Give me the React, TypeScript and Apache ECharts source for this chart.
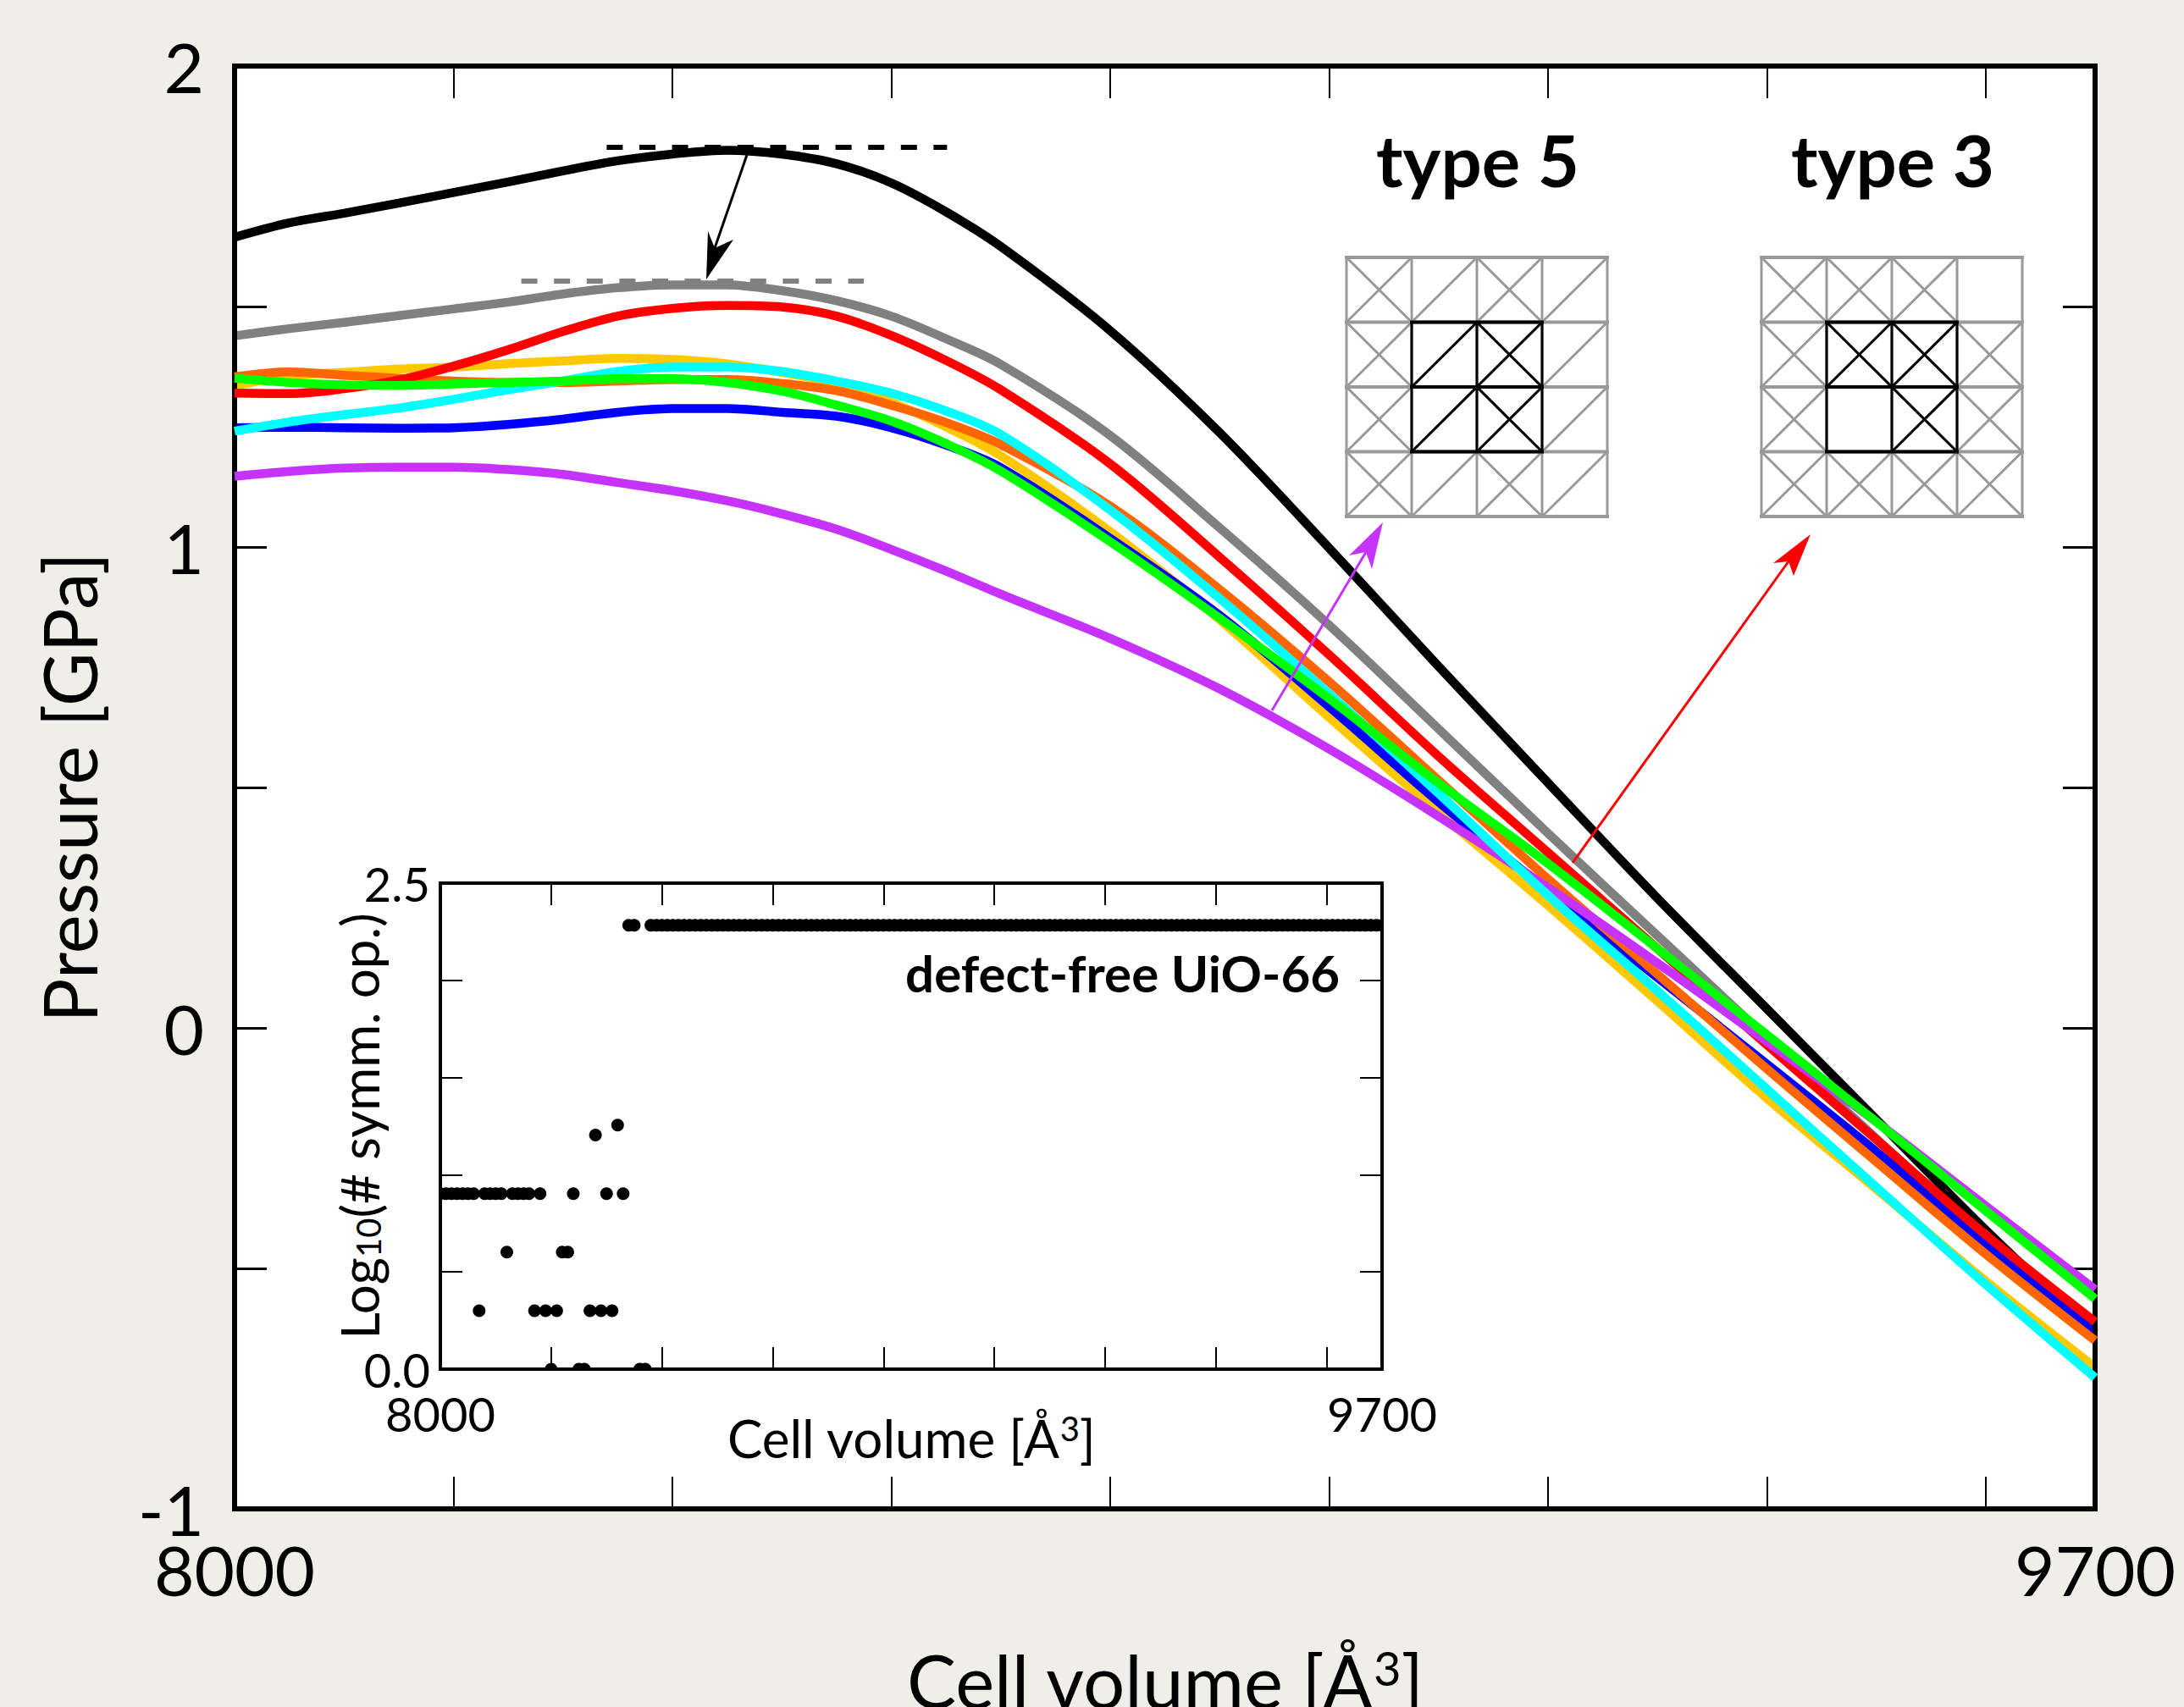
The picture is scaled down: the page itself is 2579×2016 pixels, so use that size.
import React, { useEffect, useRef } from "react";
import * as echarts from "echarts";

const volumes = [8000, 8050, 8100, 8150, 8200, 8250, 8300, 8350, 8400, 8450, 8500, 8550, 8600, 8650, 8700, 8800, 8900, 9000, 9100, 9200, 9300, 9400, 9500, 9600, 9700];

const black = [1.644, 1.674, 1.694, 1.715, 1.737, 1.759, 1.782, 1.803, 1.817, 1.825, 1.817, 1.797, 1.757, 1.697, 1.625, 1.45, 1.238, 0.998, 0.752, 0.51, 0.27, 0.04, -0.19, -0.42, -0.635];
const gray = [1.439, 1.454, 1.467, 1.481, 1.495, 1.509, 1.526, 1.539, 1.545, 1.545, 1.533, 1.512, 1.48, 1.433, 1.38, 1.232, 1.04, 0.838, 0.622, 0.405, 0.192, -0.02, -0.23, -0.44, -0.637];
const red = [1.32, 1.319, 1.329, 1.347, 1.376, 1.41, 1.448, 1.48, 1.496, 1.502, 1.499, 1.48, 1.44, 1.388, 1.327, 1.173, 0.979, 0.776, 0.565, 0.365, 0.165, -0.035, -0.232, -0.43, -0.611];
const yellow = [1.335, 1.356, 1.363, 1.37, 1.374, 1.381, 1.387, 1.392, 1.39, 1.381, 1.363, 1.34, 1.301, 1.25, 1.19, 1.032, 0.849, 0.646, 0.448, 0.255, 0.056, -0.146, -0.335, -0.526, -0.706];
const orange = [1.354, 1.364, 1.357, 1.351, 1.345, 1.342, 1.342, 1.345, 1.348, 1.348, 1.34, 1.325, 1.295, 1.259, 1.213, 1.085, 0.912, 0.72, 0.515, 0.31, 0.112, -0.085, -0.278, -0.47, -0.65];
const green = [1.351, 1.342, 1.337, 1.336, 1.339, 1.342, 1.345, 1.35, 1.35, 1.342, 1.324, 1.295, 1.262, 1.215, 1.158, 1.011, 0.852, 0.685, 0.509, 0.342, 0.165, -0.014, -0.195, -0.38, -0.563];
const cyan = [1.241, 1.26, 1.275, 1.289, 1.307, 1.327, 1.345, 1.365, 1.374, 1.374, 1.365, 1.345, 1.32, 1.283, 1.234, 1.077, 0.893, 0.695, 0.488, 0.276, 0.077, -0.127, -0.331, -0.533, -0.727];
const blue = [1.248, 1.249, 1.248, 1.247, 1.248, 1.255, 1.266, 1.28, 1.288, 1.288, 1.28, 1.272, 1.248, 1.212, 1.165, 1.018, 0.858, 0.668, 0.47, 0.285, 0.105, -0.075, -0.257, -0.448, -0.629];
const purple = [1.147, 1.157, 1.164, 1.166, 1.166, 1.161, 1.151, 1.134, 1.117, 1.096, 1.069, 1.037, 0.995, 0.95, 0.902, 0.81, 0.705, 0.58, 0.44, 0.292, 0.135, -0.028, -0.195, -0.37, -0.544];

const blackPlateau = [[8340, 1.831], [8651, 1.831]];
const grayPlateau = [[8262, 1.553], [8575, 1.553]];

// number of symmetry operations for every 10 A^3 step, starting at 8000
const inset_step_start = 8000;
const symmetryOps = [
  8, 8, 8, 8, 8, 8, 8, 2, 8, 8, 8, 8, 4, 8, 8, 8, 8, 2, 8, 2, 1, 2, 4, 4, 8, 1, 1, 2, 16, 2, 8, 2, 18, 8, 192, 192, 1, 1,
  192, 192, 192, 192, 192, 192, 192, 192, 192, 192, 192, 192, 192, 192, 192, 192, 192, 192, 192, 192, 192, 192, 192, 192, 192,
  192, 192, 192, 192, 192, 192, 192, 192, 192, 192, 192, 192, 192, 192, 192, 192, 192, 192, 192, 192, 192, 192, 192, 192, 192,
  192, 192, 192, 192, 192, 192, 192, 192, 192, 192, 192, 192, 192, 192, 192, 192, 192, 192, 192, 192, 192, 192, 192, 192, 192,
  192, 192, 192, 192, 192, 192, 192, 192, 192, 192, 192, 192, 192, 192, 192, 192, 192, 192, 192, 192, 192, 192, 192, 192, 192,
  192, 192, 192, 192, 192, 192, 192, 192, 192, 192, 192, 192, 192, 192, 192, 192, 192, 192, 192, 192, 192, 192, 192, 192, 192,
  192, 192, 192, 192, 192, 192, 192, 192,
];

const type5Cells = ["X/X/", "X/X/", "X/X/", "X/X/"];
const type3Cells = ["XXX.", "XXXX", "X.XX", "XXXX"];

const FONT = "Lato";
const PURPLE = "#C633FF";

function iconLines(left: number, cells: string[]) {
  const top = 304;
  const w = 77;
  const h = 76.5;
  const out: any[] = [];
  const line = (x1: number, y1: number, x2: number, y2: number, stroke: string, lw: number, z: number) =>
    out.push({ type: "line", z, shape: { x1, y1, x2, y2 }, style: { stroke, lineWidth: lw, lineCap: "square" } });
  const cell = (r: number, c: number, stroke: string, z: number) => {
    const x = left + c * w;
    const y = top + r * h;
    const k = cells[r][c];
    if (k === "X" || k === "/") line(x, y + h, x + w, y, stroke, 3, z);
    if (k === "X") line(x, y, x + w, y + h, stroke, 3, z);
  };
  for (let r = 0; r < 4; r++) for (let c = 0; c < 4; c++) cell(r, c, "#999999", 20);
  for (let i = 0; i <= 4; i++) {
    line(left, top + i * h, left + 4 * w, top + i * h, "#999999", 4, 20);
    line(left + i * w, top, left + i * w, top + 4 * h, "#999999", 3, 20);
  }
  for (let r = 1; r < 3; r++) for (let c = 1; c < 3; c++) cell(r, c, "#000000", 21);
  for (let i = 1; i <= 3; i++) {
    line(left + w, top + i * h, left + 3 * w, top + i * h, "#000000", 4, 21);
    line(left + i * w, top + h, left + i * w, top + 3 * h, "#000000", 3, 21);
  }
  return out;
}

function arrow(base: number[], tip: number[], w1: number[], w2: number[], notch: number[], color: string, lw: number) {
  return [
    { type: "line", z: 30, shape: { x1: base[0], y1: base[1], x2: notch[0], y2: notch[1] }, style: { stroke: color, lineWidth: lw } },
    { type: "polygon", z: 30, shape: { points: [tip, w1, notch, w2] }, style: { fill: color } },
  ];
}

function boxAxes(grid: number, kind: "x" | "y", min: number, max: number, interval: number, len: number, lineW: number, tickW: number, labelFmt: (v: number) => string, fontSize: number, margin: number, name: any) {
  const first = kind === "x" ? "bottom" : "left";
  const second = kind === "x" ? "top" : "right";
  const base = {
    type: "value", gridIndex: grid, min, max, interval, z: 6,
    splitLine: { show: false },
    axisLine: { show: true, onZero: false, lineStyle: { color: "#000", width: lineW, cap: "square" } },
    axisTick: { show: true, inside: true, length: len, lineStyle: { color: "#000", width: tickW } },
  };
  return [
    {
      ...base, position: first, nameMoveOverlap: false,
      axisLabel: { show: true, formatter: labelFmt, fontFamily: FONT, fontSize, color: "#000", margin, showMinLabel: true, showMaxLabel: true },
      ...name,
    },
    { ...base, position: second, axisLabel: { show: false } },
  ];
}

export default function App() {
  const ref = useRef<HTMLDivElement>(null);
  useEffect(() => {
    document.body.style.margin = "0";
    const chart = echarts.init(ref.current!, null, { renderer: "svg" });
    const pts = (ys: number[]) => ys.map((y, i) => [volumes[i], y]);
    const curve = (name: string, ys: number[], color: string, z: number) => ({
      name, type: "line", data: pts(ys), smooth: 0.33, showSymbol: false, symbol: "none", z,
      xAxisIndex: 0, yAxisIndex: 0,
      lineStyle: { color, width: 10.5, cap: "butt" },
    });
    const xEnds = (v: number) => (v === 8000 || v === 9700 ? String(v) : "");
    const mainNameX = {
      name: "{a|Cell volume [Å}{s|3}{a|]}", nameLocation: "middle", nameGap: 159,
      nameTextStyle: { rich: { a: { fontFamily: FONT, fontSize: 87, color: "#000" }, s: { fontFamily: FONT, fontSize: 56, color: "#000", verticalAlign: "top", lineHeight: 87 } } },
    };
    const mainNameY = {
      name: "Pressure [GPa]", nameLocation: "middle", nameGap: 152,
      nameTextStyle: { fontFamily: FONT, fontSize: 87, color: "#000" },
    };
    const insetNameX = {
      name: "{a|Cell volume [Å}{s|3}{a|]}", nameLocation: "middle", nameGap: 50,
      nameTextStyle: { rich: { a: { fontFamily: FONT, fontSize: 62, color: "#000" }, s: { fontFamily: FONT, fontSize: 40, color: "#000", verticalAlign: "top", lineHeight: 62 } } },
    };
    const insetNameY = {
      name: "{a|Log}{s|10}{a|(# symm. op.)}", nameLocation: "middle", nameGap: 65,
      nameTextStyle: { rich: { a: { fontFamily: FONT, fontSize: 62, color: "#000" }, s: { fontFamily: FONT, fontSize: 40, color: "#000", verticalAlign: "bottom", lineHeight: 62 } } },
    };
    chart.setOption({
      animation: false,
      backgroundColor: "#F0EEE8",
      grid: [
        { left: 277, top: 78, width: 2197, height: 1704, show: true, backgroundColor: "#fff", borderWidth: 0, outerBoundsMode: "none" },
        { left: 520, top: 1043, width: 1112, height: 574, show: false, outerBoundsMode: "none" },
      ],
      xAxis: [
        ...boxAxes(0, "x", 8000, 9700, 200, 38, 6, 2, xEnds, 82, 30, mainNameX),
        ...boxAxes(1, "x", 8000, 9700, 200, 26, 4, 2, xEnds, 56, 24, insetNameX),
      ],
      yAxis: [
        ...boxAxes(0, "y", -1, 2, 0.5, 38, 6, 3, (v: number) => (Number.isInteger(v) ? String(v) : ""), 82, 36, mainNameY),
        ...boxAxes(1, "y", 0, 2.5, 0.5, 26, 4, 2, (v: number) => (v === 0 || v === 2.5 ? v.toFixed(1) : ""), 56, 12, insetNameY),
      ],
      series: [
        curve("black", black, "#000000", 2),
        curve("gray", gray, "#808080", 3),
        curve("yellow", yellow, "#FFC800", 4),
        curve("blue", blue, "#0000FF", 5),
        curve("orange", orange, "#FF6600", 6),
        curve("red", red, "#FF0000", 7),
        curve("purple", purple, PURPLE, 8),
        curve("cyan", cyan, "#00FFFF", 9),
        curve("green", green, "#00FF00", 10),
        {
          name: "black plateau", type: "line", data: blackPlateau, symbol: "none", z: 11, xAxisIndex: 0, yAxisIndex: 0,
          lineStyle: { color: "#000", width: 6, type: [19, 19.6] },
        },
        {
          name: "gray plateau", type: "line", data: grayPlateau, symbol: "none", z: 11, xAxisIndex: 0, yAxisIndex: 0,
          lineStyle: { color: "#808080", width: 6, type: [19, 19.6] },
        },
        {
          name: "symmetry", type: "scatter", xAxisIndex: 2, yAxisIndex: 2, symbolSize: 15, z: 2,
          itemStyle: { color: "#000", opacity: 1 },
          data: symmetryOps.map((n, i) => [inset_step_start + i * 10, Math.log10(n)]),
        },
      ],
      graphic: [
        { type: "rect", z: 3, shape: { x: 508, y: 1617, width: 1136, height: 10 }, style: { fill: "#fff" } },
        { type: "rect", z: 3, shape: { x: 508, y: 1035, width: 12, height: 592 }, style: { fill: "#fff" } },
        { type: "rect", z: 3, shape: { x: 1632, y: 1035, width: 12, height: 592 }, style: { fill: "#fff" } },
        ...iconLines(1590, type5Cells),
        ...iconLines(2080, type3Cells),
        { type: "text", z: 30, x: 1745, y: 188, style: { text: "type 5", fontFamily: FONT, fontWeight: "bold", fontSize: 85, fill: "#000", align: "center", verticalAlign: "middle" } },
        { type: "text", z: 30, x: 2235, y: 188, style: { text: "type 3", fontFamily: FONT, fontWeight: "bold", fontSize: 85, fill: "#000", align: "center", verticalAlign: "middle" } },
        { type: "text", z: 30, x: 1582, y: 1149, style: { text: "defect-free UiO-66", fontFamily: FONT, fontWeight: "bold", fontSize: 60, fill: "#000", align: "right", verticalAlign: "middle" } },
        ...arrow([882, 183], [834, 330], [836, 273], [866, 283], [844, 293], "#000000", 3),
        ...arrow([1502, 839], [1633, 617], [1593, 656], [1620, 672], [1613, 652], PURPLE, 3),
        ...arrow([1857, 1019], [2138, 631], [2094, 665], [2118, 680], [2112, 663], "#FF0000", 3),
      ],
    });
    return () => chart.dispose();
  }, []);
  return <div ref={ref} style={{ width: 2579, height: 2016 }} />;
}
